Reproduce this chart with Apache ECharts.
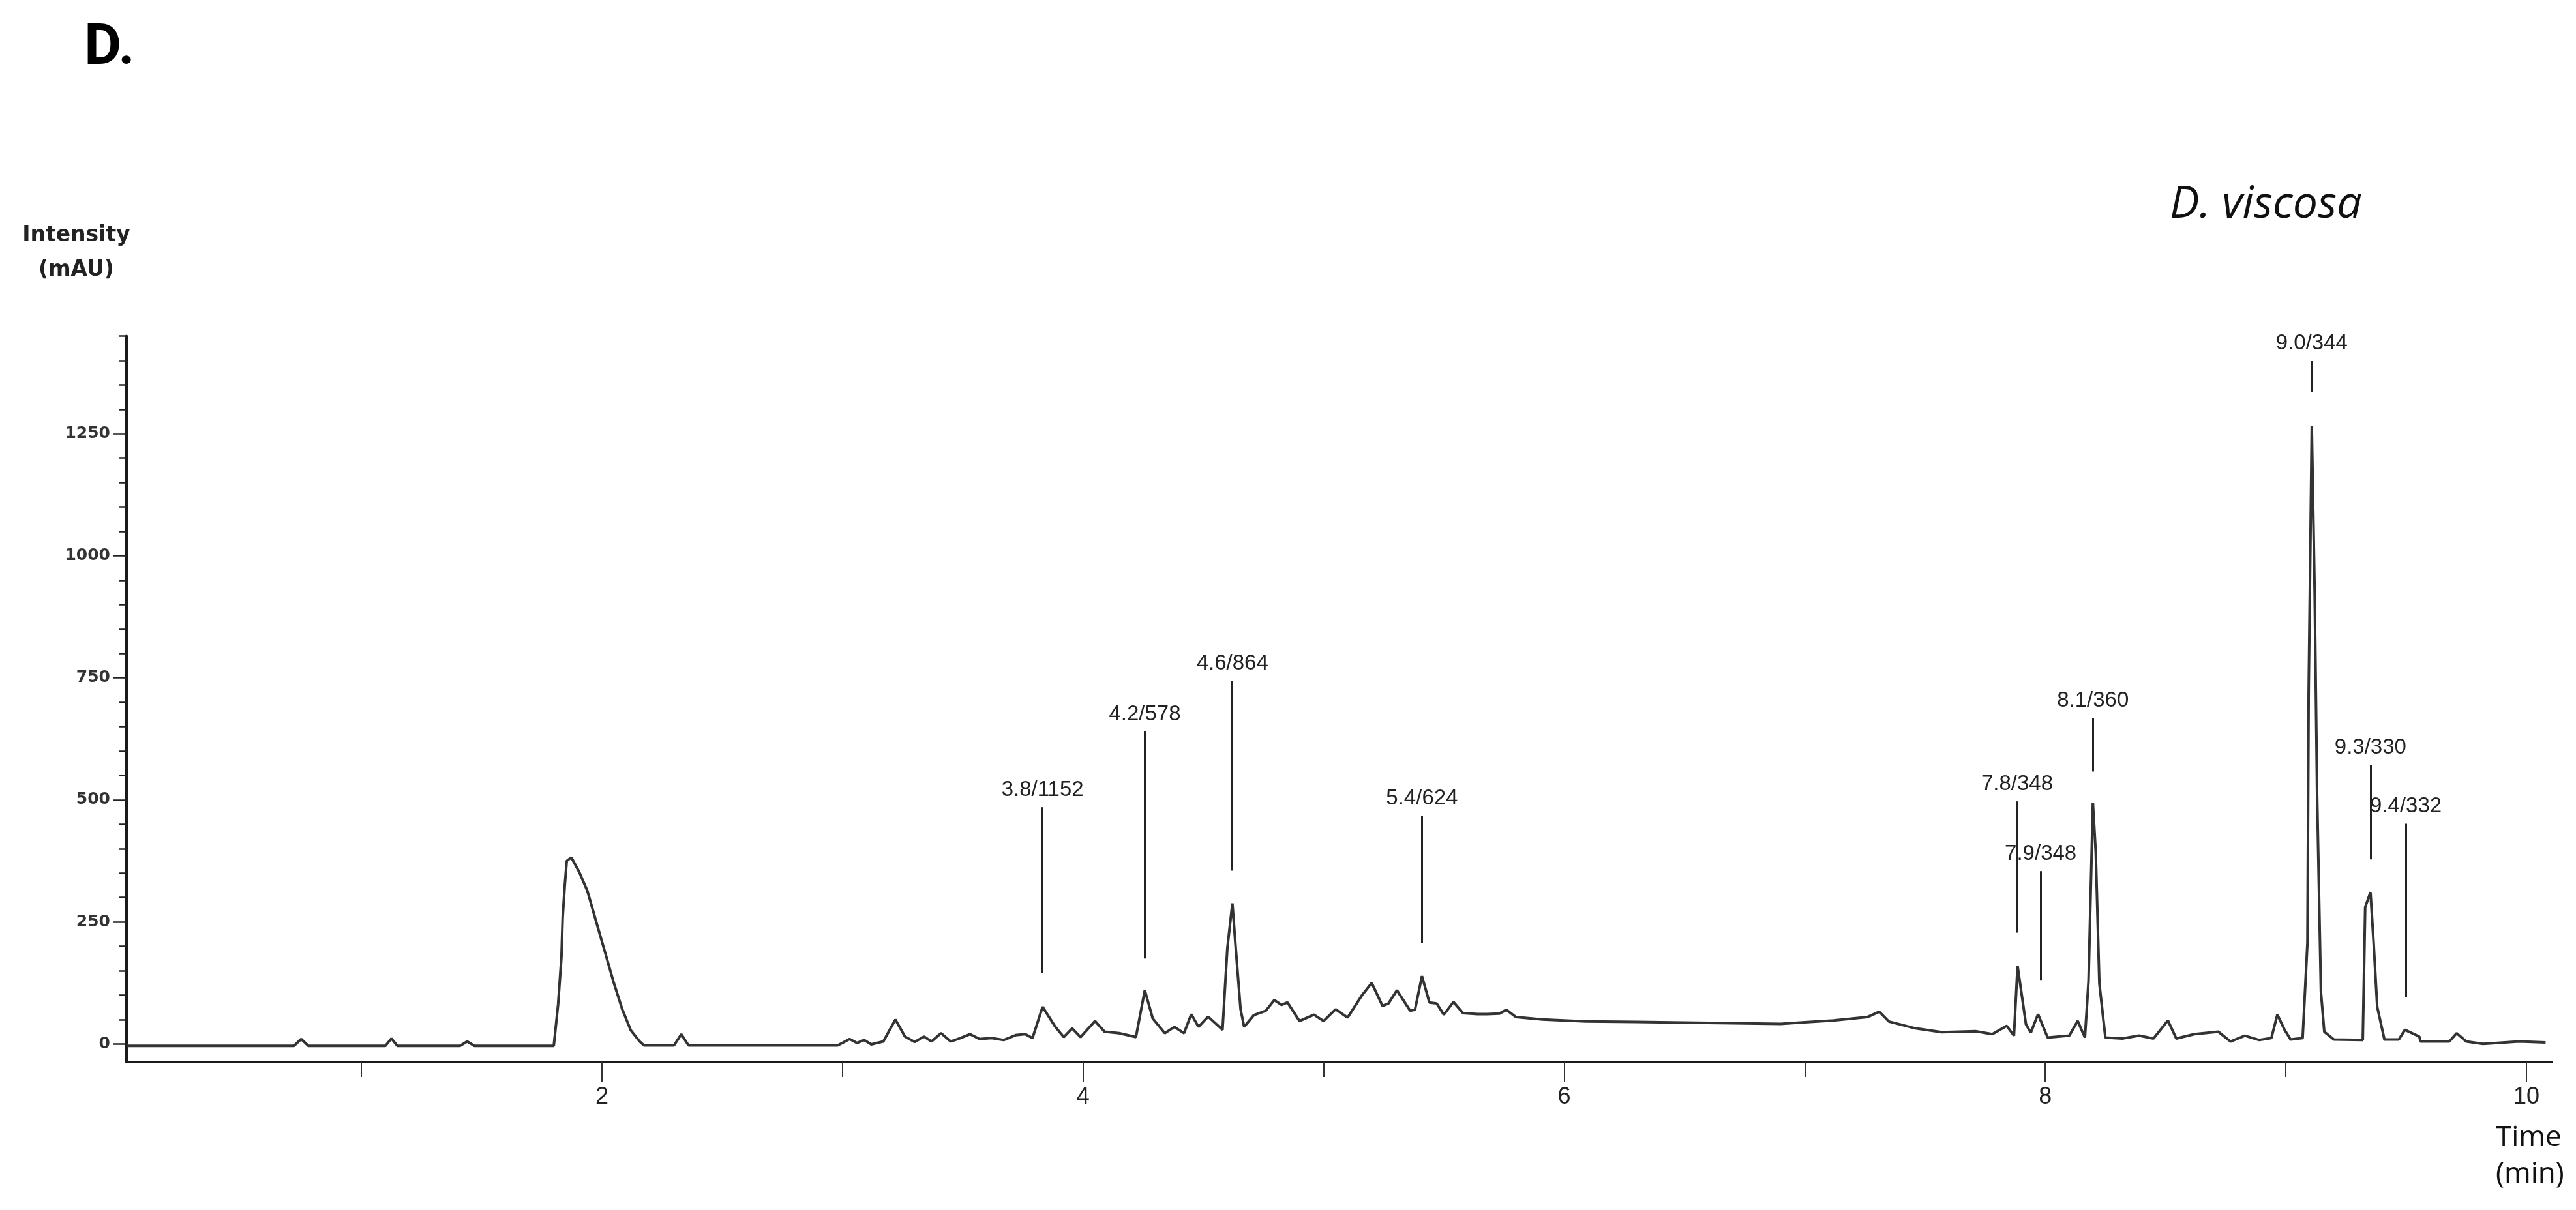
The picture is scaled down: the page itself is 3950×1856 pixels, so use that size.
<!DOCTYPE html>
<html>
<head>
<meta charset="utf-8">
<title>D. viscosa chromatogram</title>
<script src="https://cdn.jsdelivr.net/npm/echarts@6/dist/echarts.min.js"></script>
<style>
  html, body { margin: 0; padding: 0; background: #fff; overflow: hidden; }
  #chart { width: 3950px; height: 1856px; }
</style>
</head>
<body>
<div id="chart"></div>
<script>
// retention time (min) and intensity (mAU)
var timeMin = [
  0.024, 0.72, 0.75, 0.78, 1.10, 1.125, 1.15, 1.41, 1.44, 1.47,
  1.80, 1.818, 1.832, 1.837, 1.846, 1.854, 1.873, 1.905, 1.94, 1.976,
  2.013, 2.049, 2.084, 2.12, 2.157, 2.175, 2.30, 2.33, 2.36, 2.98,
  3.00, 3.03, 3.06, 3.09, 3.12, 3.17, 3.22, 3.26, 3.30, 3.34,
  3.37, 3.41, 3.45, 3.49, 3.53, 3.57, 3.62, 3.67, 3.72, 3.76,
  3.79, 3.832, 3.885, 3.92, 3.955, 3.99, 4.05, 4.09, 4.15, 4.22,
  4.257, 4.29, 4.34, 4.38, 4.42, 4.45, 4.48, 4.52, 4.58, 4.60,
  4.621, 4.635, 4.655, 4.67, 4.71, 4.76, 4.795, 4.825, 4.85, 4.90,
  4.96, 5.00, 5.05, 5.10, 5.16, 5.20, 5.245, 5.27, 5.305, 5.36,
  5.38, 5.409, 5.44, 5.47, 5.50, 5.54, 5.58, 5.64, 5.68, 5.73,
  5.76, 5.80, 5.91, 6.09, 6.30, 6.45, 6.60, 6.75, 6.90, 6.99,
  7.12, 7.26, 7.31, 7.35, 7.46, 7.57, 7.71, 7.78, 7.84, 7.87,
  7.885, 7.92, 7.94, 7.97, 8.01, 8.10, 8.135, 8.165, 8.18, 8.198,
  8.21, 8.225, 8.25, 8.32, 8.39, 8.45, 8.51, 8.545, 8.62, 8.72,
  8.77, 8.83, 8.89, 8.94, 8.965, 8.995, 9.02, 9.07, 9.09, 9.095,
  9.108, 9.12, 9.13, 9.146, 9.16, 9.20, 9.32, 9.33, 9.352, 9.365,
  9.38, 9.41, 9.47, 9.495, 9.555, 9.56, 9.68, 9.71, 9.75, 9.82,
  9.97, 10.08
];
var intensity = [
  -4, -4, 10, -4, -4, 11, -4, -4, 5, -4,
  -4, 81, 179, 259, 326, 375, 382, 353, 313, 251,
  188, 126, 72, 28, 5, -3, -3, 20, -3, -3,
  2, 10, 2, 8, -1, 5, 50, 15, 4, 15,
  5, 22, 5, 12, 20, 10, 12, 8, 18, 20,
  12, 76, 35, 14, 32, 14, 47, 25, 22, 14,
  110, 52, 22, 35, 22, 61, 35, 56, 29, 196,
  288, 196, 71, 35, 59, 68, 90, 80, 85, 47,
  60, 47, 71, 54, 100, 125, 78, 83, 110, 68,
  70, 139, 85, 83, 60, 86, 63, 61, 61, 62,
  70, 55, 50, 46, 45, 44, 43, 42, 41, 44,
  48, 55, 66, 46, 32, 24, 26, 20, 37, 17,
  160, 40, 23, 61, 13, 17, 47, 13, 129, 494,
  392, 124, 13, 11, 17, 11, 48, 11, 20, 25,
  5, 17, 8, 12, 60, 29, 9, 12, 208, 720,
  1265, 924, 515, 107, 25, 9, 8, 280, 311, 208,
  76, 9, 9, 29, 15, 5, 5, 22, 5, 0,
  5, 3
];

// peak annotations: label, time, top and bottom of the marker line (mAU)
var peakNames = ['3.8/1152', '4.2/578', '4.6/864', '5.4/624', '7.8/348', '7.9/348', '8.1/360', '9.0/344', '9.3/330', '9.4/332'];
var peakTimes = [3.832, 4.257, 4.621, 5.409, 7.883, 7.981, 8.198, 9.108, 9.352, 9.499];
var peakTops = [485, 640, 744, 467, 497, 354, 668, 1399, 571, 451];
var peakBottoms = [146, 175, 355, 207, 228, 131, 558, 1335, 378, 96];

var yLabelValues = [0, 250, 500, 750, 1000, 1250];
var yMinorValues = [];
for (var v = 50; v <= 1450; v += 50) { if (v % 250 !== 0) yMinorValues.push(v); }
var xLabelValues = [2, 4, 6, 8, 10];
var xMinorValues = [1, 3, 5, 7, 9];

var trace = timeMin.map(function (t, i) { return [t, intensity[i]]; });
var peakLines = peakNames.map(function (n, i) {
  return [{ name: n, coord: [peakTimes[i], peakTops[i]] }, { coord: [peakTimes[i], peakBottoms[i]] }];
});

var xMin = 0.024, xMax = 10.106, yMin = -37, yMax = 1450;
var plain = function (val) { return String(val); };

var myChart = echarts.init(document.getElementById('chart'));
myChart.setOption({
  animation: false,
  backgroundColor: '#ffffff',
  title: [
    {
      text: 'D.', left: 124, top: 27,
      textStyle: { fontFamily: 'Roboto', fontWeight: 'bold', fontSize: 88, color: '#000' }
    },
    {
      text: 'D. viscosa', left: 3322, top: 276,
      textStyle: { fontFamily: 'Open Sans', fontStyle: 'italic', fontWeight: 'normal', fontSize: 68, color: '#111' }
    },
    {
      // x axis title, sits under the right end of the axis
      text: 'Time\n(min)', left: 3822, top: 1712,
      textStyle: { fontFamily: 'Open Sans', fontWeight: 'normal', fontSize: 44, lineHeight: 56, color: '#111' }
    }
  ],
  grid: { left: 194, right: 37, top: 515.5, bottom: 227, containLabel: false, outerBoundsMode: 'none' },
  xAxis: [
    {
      type: 'value', min: xMin, max: xMax, position: 'bottom',
      axisLine: { show: true, onZero: false, lineStyle: { color: '#1a1a1a', width: 4 } },
      axisTick: { show: true, customValues: xLabelValues, length: 30, lineStyle: { color: '#333', width: 2 } },
      axisLabel: {
        customValues: xLabelValues, margin: 36, formatter: plain,
        fontFamily: 'Liberation Sans', fontSize: 36, color: '#222'
      },
      splitLine: { show: false }
    },
    {
      type: 'value', min: xMin, max: xMax, position: 'bottom',
      axisLine: { show: false, onZero: false },
      axisTick: { show: true, customValues: xMinorValues, length: 23, lineStyle: { color: '#333', width: 2 } },
      axisLabel: { show: false },
      splitLine: { show: false }
    }
  ],
  yAxis: [
    {
      type: 'value', min: yMin, max: yMax, position: 'left',
      name: 'Intensity\n(mAU)', nameLocation: 'end', nameGap: 75,
      nameTextStyle: {
        fontFamily: 'DejaVu Sans', fontWeight: 'bold', fontSize: 33, color: '#222', lineHeight: 53,
        align: 'center', verticalAlign: 'bottom', padding: [0, 154, 0, 0]
      },
      axisLine: { show: true, onZero: false, lineStyle: { color: '#1a1a1a', width: 4 } },
      axisTick: { show: true, customValues: yLabelValues, length: 20, lineStyle: { color: '#222', width: 2.5 } },
      axisLabel: {
        customValues: yLabelValues, margin: 25, formatter: plain,
        fontFamily: 'DejaVu Sans', fontWeight: 'bold', fontSize: 25, color: '#333'
      },
      splitLine: { show: false }
    },
    {
      type: 'value', min: yMin, max: yMax, position: 'left',
      axisLine: { show: false, onZero: false },
      axisTick: { show: true, customValues: yMinorValues, length: 11, lineStyle: { color: '#222', width: 2.5 } },
      axisLabel: { show: false },
      splitLine: { show: false }
    }
  ],
  series: [
    {
      type: 'line',
      xAxisIndex: 0,
      yAxisIndex: 0,
      data: trace,
      symbol: 'none',
      smooth: false,
      lineStyle: { color: '#333', width: 4 },
      markLine: {
        silent: true,
        symbol: ['none', 'none'],
        lineStyle: { color: '#222', width: 3, type: 'solid' },
        label: {
          show: true, position: 'start', distance: 10, formatter: '{b}',
          fontFamily: 'Liberation Sans', fontSize: 33, color: '#222'
        },
        emphasis: { disabled: true },
        data: peakLines
      }
    }
  ]
});
</script>
</body>
</html>
